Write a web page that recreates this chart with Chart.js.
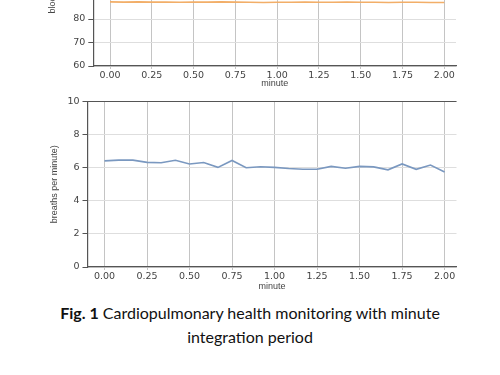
<!DOCTYPE html>
<html>
<head>
<meta charset="utf-8">
<script src="https://cdn.jsdelivr.net/npm/chart.js@4/dist/chart.umd.min.js"></script>
<style>
  html, body { margin: 0; padding: 0; background: #fff; width: 500px; height: 375px; overflow: hidden; position: relative; }
  .wrap { position: absolute; left: 0; width: 470px; }
  #topWrap { top: -110px; height: 200px; }
  #botWrap { top: 90px; height: 205px; }
  #caption { position: absolute; left: 0; width: 500px; top: 301px; text-align: center;
    font-family: Lato, "Open Sans", sans-serif; font-size: 16px; line-height: 24px; color: #111; }
</style>
</head>
<body>
<div class="wrap" id="topWrap"><canvas id="topChart"></canvas></div>
<div class="wrap" id="botWrap"><canvas id="botChart"></canvas></div>
<div id="caption"><b>Fig. 1</b> Cardiopulmonary health monitoring with minute<br>integration period</div>
<script>
// ---- data ----
const minutes = [0.000,0.083,0.167,0.250,0.333,0.417,0.500,0.583,0.667,0.750,0.833,0.917,1.000,1.083,1.167,1.250,1.333,1.417,1.500,1.583,1.667,1.750,1.833,1.917,2.000];
const pulseValues = [87.3,87.2,87.3,87.2,87.2,87.1,87.2,87.2,87.3,87.2,87.1,87.0,87.1,87.1,87.2,87.1,87.1,87.2,87.1,87.1,87.0,87.1,87.1,87.0,87.0];
const breathValues = [6.41,6.46,6.46,6.32,6.30,6.45,6.22,6.31,6.02,6.44,6.00,6.06,6.02,5.95,5.91,5.91,6.08,5.97,6.08,6.05,5.87,6.23,5.90,6.16,5.74];
const xTicks = [0.00,0.25,0.50,0.75,1.00,1.25,1.50,1.75,2.00];
const xLabel = 'minute';
const topYLabel = 'blood pressure';
const botYLabel = 'breaths per minute)';

const tickFont = { family: 'DejaVu Sans', size: 9.5 };
const titleFont = { family: 'Liberation Sans', size: 9 };
const textColor = '#444';

const topSpine = {
  id: 'topSpine',
  afterDraw(chart) {
    const a = chart.chartArea, ctx = chart.ctx;
    ctx.save();
    ctx.strokeStyle = '#555';
    ctx.lineWidth = 1.2;
    ctx.beginPath();
    ctx.moveTo(a.left, a.top);
    ctx.lineTo(a.right, a.top);
    ctx.stroke();
    ctx.restore();
  }
};

function makeChart(id, values, color, yMin, yMax, yStep, yLabel, yWidth, xHeight, pad, yTitlePad, xTitlePadBottom) {
  return new Chart(document.getElementById(id), {
    type: 'line',
    data: {
      datasets: [{
        data: minutes.map((m, i) => ({ x: m, y: values[i] })),
        borderColor: color,
        borderWidth: 1.6,
        pointRadius: 0,
        tension: 0,
        fill: false
      }]
    },
    options: {
      responsive: true,
      maintainAspectRatio: false,
      animation: false,
      layout: { padding: pad },
      plugins: { legend: { display: false }, tooltip: { enabled: false } },
      scales: {
        x: {
          type: 'linear',
          min: -0.1,
          max: 2.07,
          afterBuildTicks: s => { s.ticks = xTicks.map(v => ({ value: v })); },
          afterFit: s => { s.height = xHeight; },
          ticks: { font: tickFont, color: textColor, padding: 1, maxRotation: 0,
                   callback: v => Number(v).toFixed(2) },
          grid: { color: '#c4c4c4', lineWidth: 1, tickLength: 3, tickColor: '#c4c4c4' },
          border: { color: '#555', width: 1.2 },
          title: { display: true, text: xLabel, font: titleFont, color: textColor,
                   padding: { top: 0, bottom: xTitlePadBottom } }
        },
        y: {
          min: yMin,
          max: yMax,
          afterFit: s => { s.width = yWidth; },
          ticks: { stepSize: yStep, font: tickFont, color: textColor, padding: 3 },
          grid: { color: '#dedede', lineWidth: 1, tickLength: 5, tickColor: '#555' },
          border: { color: '#555', width: 1.2 },
          title: { display: true, text: yLabel, font: titleFont, color: textColor,
                   padding: { top: yTitlePad, bottom: 0 } }
        }
      }
    },
    plugins: [topSpine]
  });
}

makeChart('topChart', pulseValues, '#f2ae68', 60, 130, 10, topYLabel, 93.3, 24,
          { top: 11.5, right: 14, bottom: 0, left: 0 }, 47, 0.6);
makeChart('botChart', breathValues, '#7a98c0', 0, 10, 2, botYLabel, 87.5, 28,
          { top: 11.5, right: 13.5, bottom: 0, left: 0 }, 49.6, 2.9);
</script>
</body>
</html>
